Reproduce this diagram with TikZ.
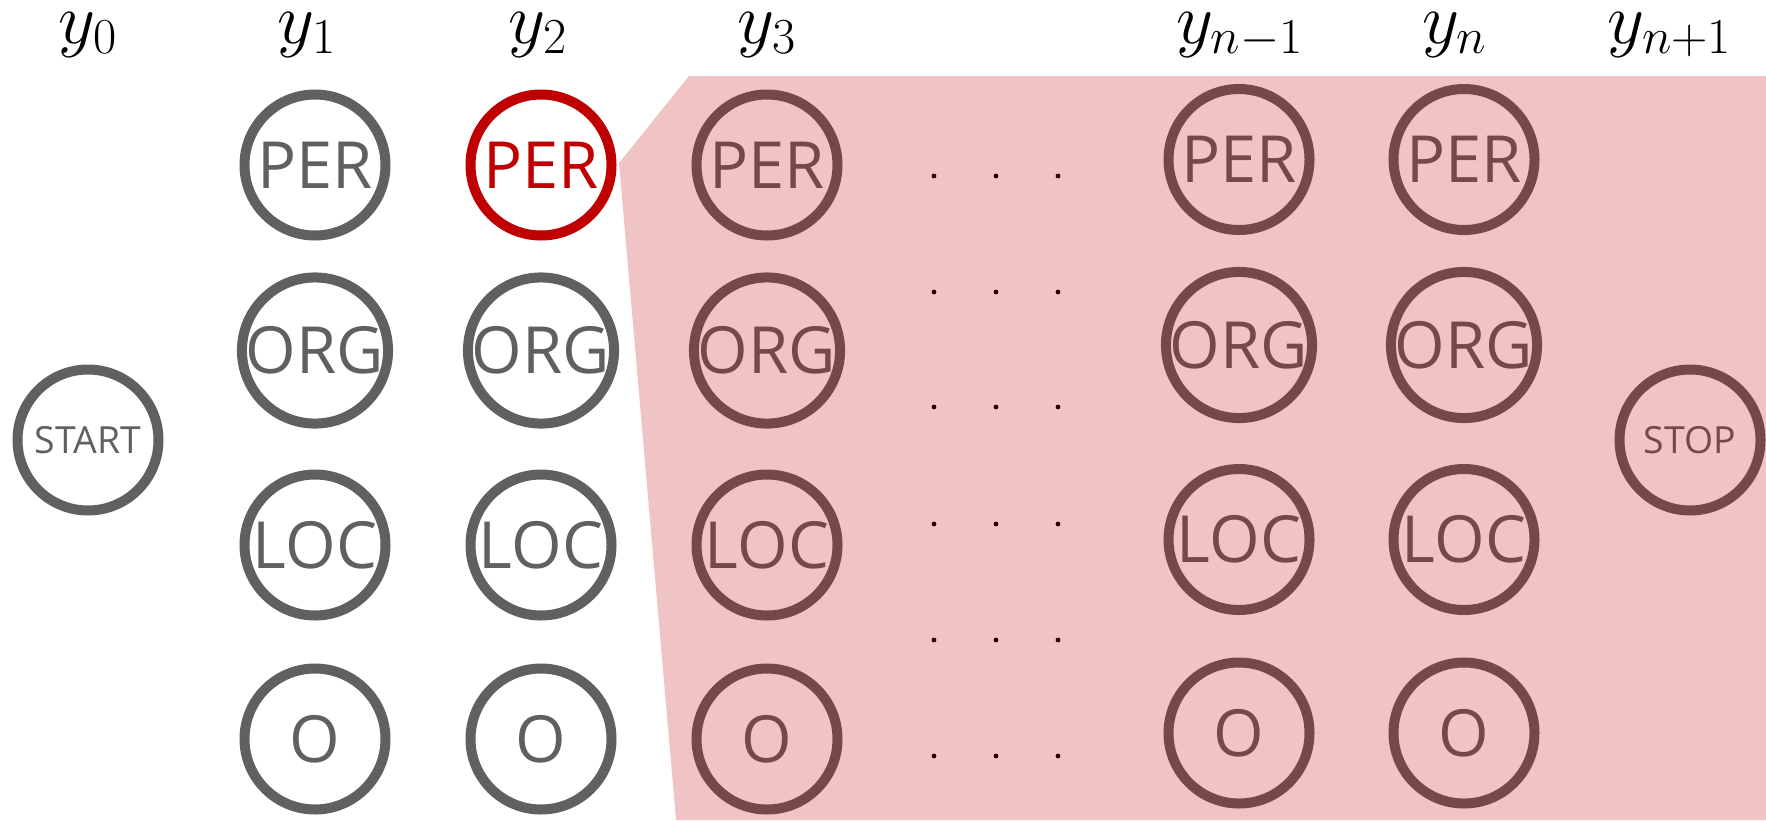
\RequirePackage{fix-cm}
\documentclass[tikz,border=0pt]{standalone}
\usepackage{fontspec}
\setsansfont{Open Sans}
\definecolor{stategray}{HTML}{606060}
\definecolor{chosenred}{HTML}{C00000}
\definecolor{veilred}{HTML}{C00000}
\begin{document}
\begin{tikzpicture}[x=0.5pt,y=-0.5pt,
  state/.style={circle, draw=stategray, line width=5pt, minimum size=70.5pt,
    inner sep=0pt, outer sep=0pt, text=stategray,
    font=\sffamily\fontsize{32.5}{36}\selectfont},
  endstate/.style={state, font=\sffamily\fontsize{18.7}{22}\selectfont},
  chosen/.style={state, draw=chosenred, text=chosenred},
  colhead/.style={anchor=base, inner sep=0pt, font=\fontsize{36}{40}\selectfont},
  gapdot/.style={circle, fill=black, inner sep=0pt, minimum size=2.4pt}
]
\useasboundingbox (0,0) rectangle (1766,820);

% column headings
\node[colhead] (h0) at (88,43) {$y_0$};
\node[colhead] (h1) at (307,43) {$y_1$};
\node[colhead] (h2) at (538,43) {$y_2$};
\node[colhead] (h3) at (767,43) {$y_3$};
\node[colhead] (hm) at (1240,43) {$y_{n-1}$};
\node[colhead] (hn) at (1455,43) {$y_n$};
\node[colhead] (hs) at (1670,43) {$y_{n+1}$};

% start and stop states
\node[endstate] (start) at (88,440) {START};
\node[endstate] (stop) at (1690,440) {STOP};

% tag states of positions 1 to 3
\foreach \c/\x in {1/315, 2/541, 3/767}{
  \node[state] (org\c) at (\x,350.5) {ORG};
  \node[state] (loc\c) at (\x,545) {LOC};
  \node[state] (o\c) at (\x,739) {O};
}
\node[state] (per1) at (315,165) {PER};
\node[chosen] (per2) at (541,165) {PER};
\node[state] (per3) at (767,165) {PER};

% tag states of positions n-1 and n
\foreach \c/\x in {m/1239, n/1464}{
  \node[state] (per\c) at (\x,159.5) {PER};
  \node[state] (org\c) at (\x,345) {ORG};
  \node[state] (loc\c) at (\x,539.5) {LOC};
  \node[state] (o\c) at (\x,733) {O};
}

% elided positions
\foreach \r [count=\i] in {176,292,407,524,640,756}{
  \foreach \x [count=\j] in {934,996,1058}{
    \node[gapdot] (gap\i-\j) at (\x,\r) {};
  }
}

% translucent region over the remaining positions
\fill[veilred, opacity=0.23] (689,76) -- (1766,76) -- (1766,820) -- (676,820)
  -- (619,163) -- cycle;
\end{tikzpicture}
\end{document}
